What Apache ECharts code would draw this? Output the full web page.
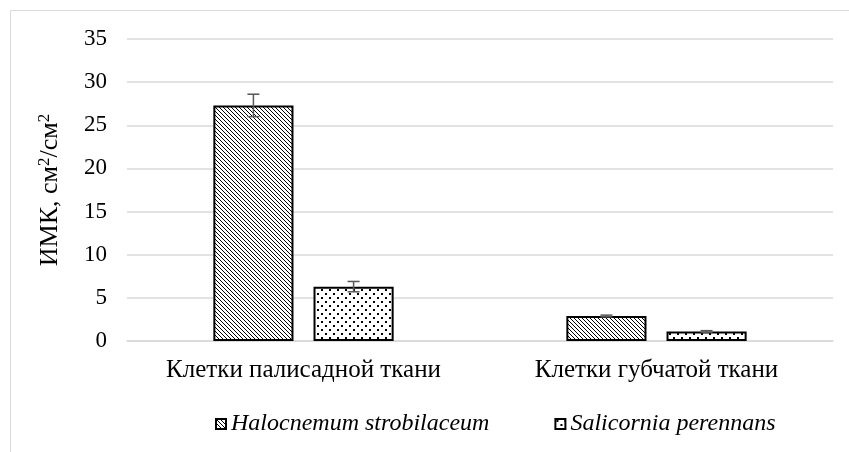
<!DOCTYPE html>
<html>
<head>
<meta charset="utf-8">
<script src="https://cdn.jsdelivr.net/npm/echarts@6/dist/echarts.min.js"></script>
<style>
  html, body { margin: 0; padding: 0; background: #fff; }
  #chart { width: 849px; height: 452px; }
</style>
</head>
<body>
<div id="chart"></div>
<script>
// data
var categories = ['Клетки палисадной ткани', 'Клетки губчатой ткани']
var seriesNames = ['Halocnemum strobilaceum', 'Salicornia perennans']
var halocnemum = [27.3, 2.9]
var halocnemumErr = [1.3, 0.1]
var salicornia = [6.3, 1.1]
var salicorniaErr = [0.6, 0.1]
var yTicks = [0, 35, 5]

// hatch fill: diagonal lines
function hatchPattern() {
    var c = document.createElement('canvas')
    c.width = 4
    c.height = 4
    var ctx = c.getContext('2d')
    ctx.fillStyle = '#fff'
    ctx.fillRect(0, 0, 4, 4)
    ctx.fillStyle = '#000'
    for (var i = 0; i < 4; i++) {
        ctx.fillRect(i, i, 1, 1)
    }
    return c
}

// dotted fill
function dotPattern() {
    var c = document.createElement('canvas')
    c.width = 8
    c.height = 8
    var ctx = c.getContext('2d')
    ctx.fillStyle = '#fff'
    ctx.fillRect(0, 0, 8, 8)
    ctx.fillStyle = '#000'
    ctx.fillRect(1, 1, 2, 2)
    ctx.fillRect(5, 5, 2, 2)
    return c
}

var BAR_RATIO = 0.227
var GAP_RATIO = 0.25
var font = 'Liberation Serif'

function errorSeries(values, errs, side) {
    return {
        type: 'custom',
        silent: true,
        z: 5,
        data: values.map(function (v, i) { return [i, v - errs[i], v + errs[i]] }),
        renderItem: function (params, api) {
            var band = api.size([1, 0])[0]
            var barW = band * BAR_RATIO
            var off = side * (barW + barW * GAP_RATIO) / 2
            var lo = api.coord([api.value(0), api.value(1)])
            var hi = api.coord([api.value(0), api.value(2)])
            var x = lo[0] + off
            var cap = 6
            var st = { stroke: '#595959', lineWidth: 1.5 }
            return {
                type: 'group',
                children: [
                    { type: 'line', shape: { x1: x, y1: lo[1], x2: x, y2: hi[1] }, style: st },
                    { type: 'line', shape: { x1: x - cap, y1: hi[1], x2: x + cap, y2: hi[1] }, style: st },
                    { type: 'line', shape: { x1: x - cap, y1: lo[1], x2: x + cap, y2: lo[1] }, style: st }
                ]
            }
        }
    }
}

var chart = echarts.init(document.getElementById('chart'))
chart.setOption({
    animation: false,
    backgroundColor: '#fff',
    graphic: [{
        type: 'rect',
        shape: { x: 10.5, y: 10.5, width: 900, height: 500 },
        style: { fill: 'none', stroke: '#d9d9d9', lineWidth: 1 },
        silent: true
    }],
    grid: { left: 127, right: 16, top: 39, bottom: 111 },
    xAxis: {
        type: 'category',
        data: categories,
        axisTick: { show: false },
        axisLine: { lineStyle: { color: '#d9d9d9', width: 1.5 } },
        axisLabel: { color: '#000', fontFamily: font, fontSize: 25, margin: 17, interval: 0 }
    },
    yAxis: {
        type: 'value',
        min: yTicks[0],
        max: yTicks[1],
        interval: yTicks[2],
        name: 'ИМК, см{sup|2}/см{sup|2}',
        nameLocation: 'middle',
        nameGap: 62,
        nameTextStyle: {
            color: '#000',
            fontFamily: font,
            fontSize: 26,
            rich: {
                sup: { fontFamily: font, fontSize: 17, color: '#000', padding: [0, 0, 12, 0] }
            }
        },
        axisLine: { show: false },
        axisTick: { show: false },
        axisLabel: { color: '#000', fontFamily: font, fontSize: 23, margin: 20 },
        splitLine: { lineStyle: { color: '#d9d9d9', width: 1.5 } }
    },
    legend: {
        bottom: 11,
        left: 210,
        itemWidth: 10,
        itemHeight: 10,
        itemGap: 65,
        icon: 'rect',
        textStyle: { color: '#000', fontFamily: font, fontSize: 24, fontStyle: 'italic' },
        data: seriesNames
    },
    series: [
        {
            name: seriesNames[0],
            type: 'bar',
            data: halocnemum,
            barWidth: (BAR_RATIO * 100) + '%',
            barGap: (GAP_RATIO * 100) + '%',
            itemStyle: {
                color: { image: hatchPattern(), repeat: 'repeat' },
                borderColor: '#000',
                borderWidth: 2
            }
        },
        {
            name: seriesNames[1],
            type: 'bar',
            data: salicornia,
            barWidth: (BAR_RATIO * 100) + '%',
            itemStyle: {
                color: { image: dotPattern(), repeat: 'repeat' },
                borderColor: '#000',
                borderWidth: 2
            }
        },
        errorSeries(halocnemum, halocnemumErr, -1),
        errorSeries(salicornia, salicorniaErr, 1)
    ]
})
</script>
</body>
</html>
